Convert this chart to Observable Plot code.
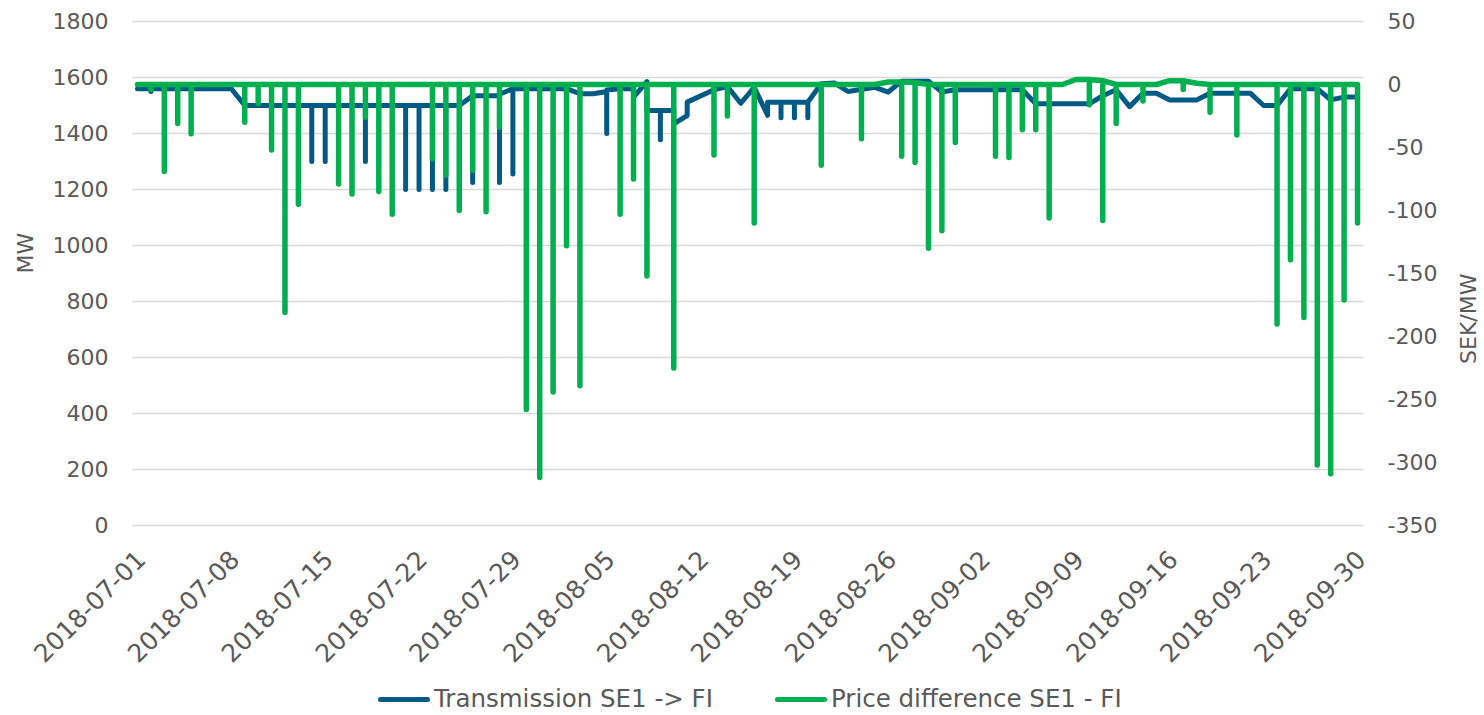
<!DOCTYPE html>
<html><head><meta charset="utf-8">
<script src="https://cdn.jsdelivr.net/npm/d3@7"></script>
<script src="https://cdn.jsdelivr.net/npm/@observablehq/plot@0.6"></script>
<style>
body{margin:0;background:#fff;font-family:"DejaVu Sans",Verdana,sans-serif;}
#wrap{position:relative;width:1484px;height:715px;overflow:hidden;background:#fff}
.leg{position:absolute;top:684px;height:30px;line-height:30px;font-size:24.5px;color:#595959;display:flex;align-items:center;white-space:nowrap}
.sw{display:inline-block;width:52px;height:5px;border-radius:3px;margin-right:4px}
</style></head><body><div id="wrap"></div>
<script>
// ---- data ----
const startDate = "2018-07-01";
const seriesNames = ["Transmission SE1 -> FI", "Price difference SE1 - FI"];
const leftTicks = [0,200,400,600,800,1000,1200,1400,1600,1800];
const rightTicks = [-350,-300,-250,-200,-150,-100,-50,0,50];
const dateTicks = ["2018-07-01","2018-07-08","2018-07-15","2018-07-22","2018-07-29","2018-08-05","2018-08-12","2018-08-19","2018-08-26","2018-09-02","2018-09-09","2018-09-16","2018-09-23","2018-09-30"];

// Transmission (MW): day offset from startDate and value, in drawing order
const transDay = [0,1,1,1,7,8,13,13,13,14,14,14,17,17,17,20,20,20,21,21,21,22,22,22,23,23,23,24,25,25,25,27,27,27,28,28,28,32,33,34,35,35,35,36,37,37,38,38,39,39,39,40,40,41,41,43,44,45,46,47,47,48,48,48,49,49,49,50,50,50,51,52,53,55,56,57,59,60,61,66,67,71,72,73,74,75,76,77,79,80,83,84,85,86,88,89,90,91];
const transMW = [1560,1560,1550,1560,1560,1500,1500,1300,1500,1500,1300,1500,1500,1300,1500,1500,1200,1500,1500,1200,1500,1500,1200,1500,1500,1200,1500,1500,1535,1225,1535,1535,1225,1540,1560,1255,1560,1560,1542,1542,1550,1400,1555,1560,1560,1530,1585,1482,1482,1378,1482,1482,1434,1464,1512,1556,1568,1508,1565,1465,1512,1512,1456,1512,1512,1456,1512,1512,1456,1512,1578,1580,1550,1565,1548,1587,1587,1548,1556,1556,1506,1506,1535,1556,1496,1544,1544,1520,1520,1544,1544,1500,1500,1560,1560,1520,1530,1530];

// Price difference (SEK/MW): daily base level (days 0..91) and daily minimum spikes
const priceBase = [0,0,0,0,0,0,0,0,0,0, 0,0,0,0,0,0,0,0,0,0, 0,0,0,0,0,0,0,0,0,0,
  0,0,0,0,0,0,0,0,0,0, 0,0,0,0,0,0,0,0,0,0, 0,0,0,0,0,0,2,2,1.5,0,
  0,0,0,0,0,0,0,0,0,0, 4,4,3,0,0,0,0,3,3,1, 0,0,0,0,0,0,0,0,0,0, 0,0];
const priceSpikeDay = [1,2,3,4,8,9,10,11,12,15,16,17,18,19,22,23,24,25,26,27,29,30,31,32,33,36,37,38,40,43,44,46,51,54,57,58,59,60,61,64,65,66,67,68,71,72,73,75,78,80,82,85,86,87,88,89,90,91];
const priceSpikeSEK = [-4,-69,-31,-39,-30,-15,-52,-181,-95,-79,-87,-26,-85,-103,-59,-72,-100,-68,-101,-34,-258,-312,-244,-128,-239,-103,-75,-152,-225,-56,-25,-110,-64,-43,-57,-62,-130,-116,-46,-57,-58,-36,-36,-106,-16,-108,-31,-13,-4,-22,-40,-190,-139,-185,-302,-309,-171,-110];

// ---- build ----
const day0 = new Date(startDate + "T00:00:00Z");
const toDate = d => new Date(day0.getTime() + d * 86400000);
const sekToMW = v => (v + 350) * 1800 / 400;
const mwToSek = m => Math.round(m * 400 / 1800 - 350);

const trans = transDay.map((d, i) => ({date: toDate(d), mw: transMW[i]}));
const price = [];
priceBase.forEach((b, d) => {
  price.push({date: toDate(d), sek: b});
  const k = priceSpikeDay.indexOf(d);
  if (k >= 0) {
    price.push({date: toDate(d), sek: priceSpikeSEK[k]});
    price.push({date: toDate(d), sek: b});
  }
});

const fmtDate = d3.utcFormat("%Y-%m-%d");
const txt = "#595959";
const blue = "#005a84";
const green = "#00b050";

const chart = Plot.plot({
  width: 1484, height: 680,
  marginLeft: 132, marginRight: 121, marginTop: 21, marginBottom: 155,
  style: {fontFamily: '"DejaVu Sans", Verdana, sans-serif', fontSize: "22px", color: txt, background: "white", overflow: "visible"},
  x: {type: "utc", domain: [day0, toDate(91)], insetLeft: 5, insetRight: 6},
  y: {domain: [0, 1800]},
  marks: [
    Plot.gridY(leftTicks, {stroke: "#d9d9d9", strokeOpacity: 1, strokeWidth: 1.5}),
    Plot.axisY(leftTicks, {anchor: "left", tickSize: 0, tickPadding: 24, label: null, fill: txt, tickFormat: d => String(d)}),
    Plot.axisY(rightTicks.map(sekToMW), {anchor: "right", tickSize: 0, tickPadding: 24, label: null, fill: txt,
      tickFormat: m => { const v = mwToSek(m); return v < 0 ? "-" + Math.abs(v) : String(v); }}),
    Plot.axisX(dateTicks.map(s => new Date(s + "T00:00:00Z")), {tickSize: 0, tickPadding: 30, dx: 4, tickRotate: -45, label: null, fill: txt, fontSize: 25, tickFormat: fmtDate}),
    Plot.line(trans, {x: "date", y: "mw", stroke: blue, strokeWidth: 5, strokeLinejoin: "round", strokeLinecap: "round"}),
    Plot.line(price, {x: "date", y: d => sekToMW(d.sek), stroke: green, strokeWidth: 5.5, strokeLinejoin: "round", strokeLinecap: "round"}),
    Plot.text(["MW"], {frameAnchor: "left", dx: -107, rotate: -90, fill: txt, fontSize: 22}),
    Plot.text(["SEK/MW"], {frameAnchor: "right", dx: 105, rotate: -90, fill: txt, fontSize: 22})
  ]
});
const wrap = document.getElementById("wrap");
wrap.appendChild(chart);

const legendItems = [{name: seriesNames[0], color: blue, left: 378}, {name: seriesNames[1], color: green, left: 775}];
legendItems.forEach(it => {
  const el = document.createElement("div");
  el.className = "leg";
  el.style.left = it.left + "px";
  const sw = document.createElement("span");
  sw.className = "sw";
  sw.style.background = it.color;
  el.appendChild(sw);
  el.appendChild(document.createTextNode(it.name));
  wrap.appendChild(el);
});
</script></body></html>
